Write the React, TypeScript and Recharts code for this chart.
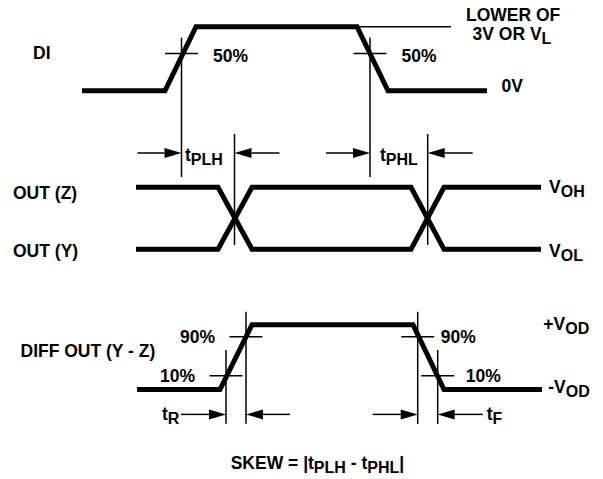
import React from 'react';
import { LineChart, Line, XAxis, YAxis, ReferenceLine } from 'recharts';

// time axis is in arbitrary units across the drawing
const diTimes = [82, 165, 196, 357, 388, 487];
const diLevels = [0, 0, 1, 1, 0, 0];
const outTimes = [136, 218, 252, 411, 444, 541];
const outZLevels = [1, 1, 0, 0, 1, 1];
const outYLevels = [0, 0, 1, 1, 0, 0];
const diffTimes = [137, 220, 252, 413, 444, 542];
const diffLevels = [0, 0, 1, 1, 0, 0];

// measurement points
const diMidTimes = [181.5, 370];
const diMidLevel = 0.58;
const crossTimes = [234.5, 427.7];
const diff90Times = [246, 417.7];
const diff10Times = [226, 437.7];
const diff90Level = 0.815;
const diff10Level = 0.213;

const W = 603;
const H = 479;
const FONT = '"Liberation Sans", Arial, Helvetica, sans-serif';
const FS = 17.5;
const SUB = 16;

const diData = diTimes.map((t, i) => ({ t, v: diLevels[i] }));
const outData = outTimes.map((t, i) => ({ t, z: outZLevels[i], y: outYLevels[i] }));
const diffData = diffTimes.map((t, i) => ({ t, v: diffLevels[i] }));

const ArrowShape = (props: any) => {
  const { x1, y1, x2, y2 } = props;
  const dx = x2 - x1;
  const dy = y2 - y1;
  const len = Math.hypot(dx, dy) || 1;
  const ux = dx / len;
  const uy = dy / len;
  const hl = 17;
  const hw = 5;
  const bx = x2 - ux * hl;
  const by = y2 - uy * hl;
  return (
    <g>
      <line x1={x1} y1={y1} x2={bx} y2={by} stroke="#000" strokeWidth={1.5} />
      <polygon
        points={`${x2},${y2} ${bx - uy * hw},${by + ux * hw} ${bx + uy * hw},${by - ux * hw}`}
        fill="#000"
      />
    </g>
  );
};

const seg = (x1: number, y1: number, x2: number, y2: number, key: string, arrow = false) => (
  <ReferenceLine
    key={key}
    segment={[{ x: x1, y: y1 }, { x: x2, y: y2 }]}
    ifOverflow="visible"
    stroke="#000"
    strokeWidth={1.5}
    shape={arrow ? ArrowShape : undefined}
  />
);

const layer: React.CSSProperties = { position: 'absolute', left: 0, top: 0 };

const Sub = ({ children }: { children: React.ReactNode }) => (
  <tspan fontSize={SUB} dy={4}>{children}</tspan>
);

const App: React.FC = () => {
  return (
    <div style={{ position: 'relative', width: W, height: H, background: '#fff' }}>
      <style>{'body{margin:0}'}</style>

      {/* DI */}
      <div style={layer}>
        <LineChart width={W} height={H} data={diData} margin={{ top: 26.7, bottom: H - 90.8, left: 0, right: 0 }}>
          <XAxis type="number" dataKey="t" domain={[0, W]} hide />
          <YAxis type="number" domain={[0, 1]} hide />
          {seg(357, 1, 451, 1, 'ref-high')}
          {diMidTimes.map((t, i) => seg(t, 0.83, t, -1.345, `dv${i}`))}
          {diMidTimes.map((t, i) => seg(t - 16.5, diMidLevel, t + 16.5, diMidLevel, `dh${i}`))}
          <Line dataKey="v" type="linear" stroke="#000" strokeWidth={5} dot={false} activeDot={false} isAnimationActive={false} strokeLinejoin="miter" />
        </LineChart>
      </div>

      {/* OUT (Z) / OUT (Y) */}
      <div style={layer}>
        <LineChart width={W} height={H} data={outData} margin={{ top: 187.3, bottom: H - 249.3, left: 0, right: 0 }}>
          <XAxis type="number" dataKey="t" domain={[0, W]} hide />
          <YAxis type="number" domain={[0, 1]} hide />
          {crossTimes.map((t, i) => seg(t, 1.86, t, 0.07, `cv${i}`))}
          {diMidTimes.map((t, i) => seg(t - 44, 1.553, t, 1.553, `al${i}`, true))}
          {crossTimes.map((t, i) => seg(t + 45, 1.553, t, 1.553, `ar${i}`, true))}
          <Line dataKey="z" type="linear" stroke="#000" strokeWidth={5} dot={false} activeDot={false} isAnimationActive={false} strokeLinejoin="miter" />
          <Line dataKey="y" type="linear" stroke="#000" strokeWidth={5} dot={false} activeDot={false} isAnimationActive={false} strokeLinejoin="miter" />
        </LineChart>
      </div>

      {/* DIFF OUT */}
      <div style={layer}>
        <LineChart width={W} height={H} data={diffData} margin={{ top: 324.7, bottom: H - 389.5, left: 0, right: 0 }}>
          <XAxis type="number" dataKey="t" domain={[0, W]} hide />
          <YAxis type="number" domain={[0, 1]} hide />
          {diff90Times.map((t, i) => seg(t, 1.2, t, -0.53, `v90${i}`))}
          {diff10Times.map((t, i) => seg(t, 0.61, t, -0.53, `v10${i}`))}
          {diff90Times.map((t, i) => seg(t - 16.5, diff90Level, t + 16.5, diff90Level, `h90${i}`))}
          {diff10Times.map((t, i) => seg(t - 16.5, diff10Level, t + 16.5, diff10Level, `h10${i}`))}
          {seg(diff10Times[0] - 45, -0.384, diff10Times[0], -0.384, 'tr1', true)}
          {seg(diff90Times[0] + 44, -0.384, diff90Times[0], -0.384, 'tr2', true)}
          {seg(diff90Times[1] - 45, -0.384, diff90Times[1], -0.384, 'tf1', true)}
          {seg(diff10Times[1] + 45, -0.384, diff10Times[1], -0.384, 'tf2', true)}
          <Line dataKey="v" type="linear" stroke="#000" strokeWidth={5} dot={false} activeDot={false} isAnimationActive={false} strokeLinejoin="miter" />
        </LineChart>
      </div>

      {/* labels */}
      <svg width={W} height={H} style={{ ...layer, pointerEvents: 'none' }}>
        <g fontFamily={FONT} fontWeight="bold" fontSize={FS} fill="#000">
          <text x={33} y={58.5}>DI</text>
          <text x={213} y={62}>50%</text>
          <text x={401.5} y={62}>50%</text>
          <text x={466} y={20.5}>LOWER OF</text>
          <text x={472.5} y={39.5}>3V OR V<Sub>L</Sub></text>
          <text x={501.5} y={91.5}>0V</text>

          <text x={185} y={161}>t<Sub>PLH</Sub></text>
          <text x={380} y={161}>t<Sub>PHL</Sub></text>

          <text x={13} y={199}>OUT (Z)</text>
          <text x={13} y={257}>OUT (Y)</text>
          <text x={549} y={193}>V<Sub>OH</Sub></text>
          <text x={549} y={256.5}>V<Sub>OL</Sub></text>

          <text x={20.5} y={356.5}>DIFF OUT (Y - Z)</text>
          <text x={180} y={343}>90%</text>
          <text x={160} y={381.5}>10%</text>
          <text x={440.7} y={342.7}>90%</text>
          <text x={465.7} y={381.5}>10%</text>
          <text x={543.3} y={330}>+V<Sub>OD</Sub></text>
          <text x={548.3} y={393}>-V<Sub>OD</Sub></text>
          <text x={162} y={420}>t<Sub>R</Sub></text>
          <text x={486.7} y={420}>t<Sub>F</Sub></text>

          <text x={230.7} y={469}>
            SKEW = |t<Sub>PLH</Sub>
            <tspan dy={-4}> - t</tspan>
            <Sub>PHL</Sub>
            <tspan dy={-4}>|</tspan>
          </text>
        </g>
      </svg>
    </div>
  );
};

export default App;
